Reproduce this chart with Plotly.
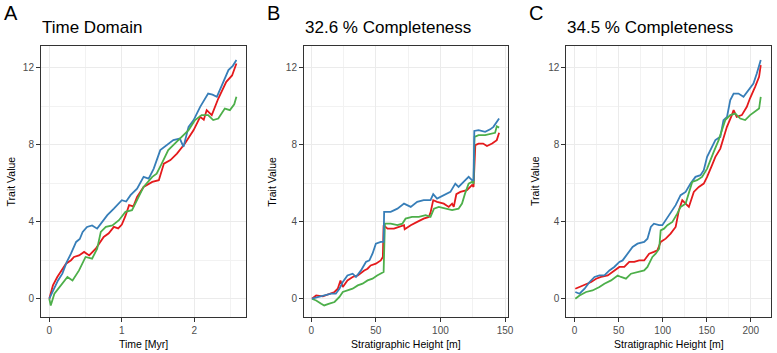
import plotly.graph_objects as go

# ---------------- Panel A: Time domain ----------------
a_blue_t = [0, 0.07, 0.12, 0.18, 0.24, 0.30, 0.37, 0.42, 0.46, 0.52, 0.59, 0.66, 0.73, 0.80, 0.89, 1.0, 1.06,
            1.12, 1.21, 1.30, 1.37, 1.44, 1.53, 1.62, 1.71, 1.80, 1.85, 1.92, 1.99, 2.08, 2.19, 2.25, 2.31, 2.37,
            2.47, 2.53, 2.58]
a_blue_v = [0, 0.6, 0.95, 1.3, 1.9, 2.35, 2.95, 3.1, 3.47, 3.73, 3.81, 3.64, 3.99, 4.34, 4.68, 5.12, 5.05,
            5.38, 5.72, 6.33, 6.24, 6.76, 7.72, 7.98, 8.24, 8.32, 7.89, 8.93, 9.28, 9.97, 10.66, 10.6, 10.49, 11.01,
            11.88, 12.1, 12.4]

a_red_t = [0, 0.05, 0.11, 0.17, 0.23, 0.30, 0.34, 0.41, 0.48, 0.55, 0.64, 0.75, 0.82, 0.89, 0.95, 1.0, 1.05,
           1.10, 1.16, 1.21, 1.30, 1.42, 1.51, 1.58, 1.67, 1.76, 1.87, 1.99, 2.08, 2.13, 2.17, 2.24, 2.33, 2.44,
           2.52, 2.58]
a_red_v = [0, 0.69, 1.13, 1.5, 1.82, 2.0, 2.17, 2.25, 2.43, 2.25, 2.6, 3.21, 3.4, 3.73, 3.65, 3.85, 4.3,
           4.86, 4.8, 5.29, 5.81, 6.07, 6.16, 7.02, 7.2, 7.54, 8.06, 8.76, 9.45, 9.3, 9.8, 9.54, 10.4, 11.27,
           11.6, 12.22]

a_green_t = [0, 0.02, 0.07, 0.16, 0.25, 0.32, 0.41, 0.50, 0.59, 0.66, 0.71, 0.78, 0.87, 0.96, 1.05, 1.14,
             1.21, 1.30, 1.42, 1.48, 1.55, 1.64, 1.73, 1.82, 1.92, 2.01, 2.10, 2.19, 2.26, 2.33, 2.42, 2.49,
             2.55, 2.58]
a_green_v = [0, -0.35, 0.26, 0.69, 1.13, 0.95, 1.47, 2.17, 2.08, 2.6, 3.47, 3.73, 3.81, 4.08, 4.51, 4.6,
             5.12, 5.81, 6.33, 6.5, 7.02, 7.72, 8.06, 8.41, 8.76, 9.28, 9.54, 9.54, 9.28, 9.36, 9.88, 9.80,
             10.1, 10.49]

# ---------------- Panel B: 32.6 % completeness ----------------
b_blue_h = [0.5, 5, 10, 15.4, 19, 21.8, 24.4, 28, 32, 34.6, 38.5, 42.3, 45, 47.4, 50, 53.8, 56, 56.4, 61.5,
            66.7, 71.8, 77, 82, 87, 92.3, 94.4, 97.4, 102.6, 107.7, 111.5, 114, 117.9, 121.8, 124.4, 125.6,
            126.2, 129.5, 134.6, 138.5, 141, 143.6, 145.4]
b_blue_v = [0, 0.09, 0.17, 0.26, 0.26, 0.52, 0.87, 1.21, 1.3, 1.13, 1.47, 1.91, 1.99, 2.34, 2.86, 2.95,
            2.95, 4.51, 4.51, 4.68, 4.94, 4.77, 5.03, 5.12, 5.12, 5.43, 5.2, 5.38, 5.55, 5.98, 5.81, 6.07,
            6.33, 6.16, 6.16, 8.72, 8.76, 8.67, 8.8, 8.93, 9.19, 9.36]

b_red_h = [0.5, 3.8, 9, 14, 18, 20.5, 22.6, 24.4, 28, 32, 36, 41, 43.6, 46, 50, 53.8, 55.4, 56, 59, 64, 68,
           71.8, 72.3, 77, 82, 87, 91, 92.3, 94.4, 97.4, 102.6, 106.4, 109, 110.3, 112.3, 115.4, 120.5,
           124.4, 125.6, 126.4, 127, 129.5, 133, 136, 140, 143.6, 145.4]
b_red_v = [0, 0.17, 0.12, 0.26, 0.35, 0.52, 0.95, 0.61, 0.95, 1.13, 1.21, 1.47, 1.56, 1.73, 1.82, 1.99,
           2.17, 3.82, 3.64, 3.64, 3.73, 3.82, 3.61, 3.82, 3.99, 4.16, 4.25, 4.47, 5.12, 5.03, 4.94, 4.77,
           4.94, 4.77, 5.43, 5.55, 5.64, 5.9, 5.81, 7.54, 7.98, 8.06, 8.06, 7.93, 8.06, 8.24, 8.62]

b_green_h = [0.5, 3.8, 7.7, 10, 14, 18, 21.8, 24.4, 28, 32, 36, 39.7, 43.6, 47.4, 51, 55, 56, 57, 61.5,
             66.7, 70.5, 73, 78, 83.3, 88.5, 92.3, 95, 98.7, 104, 109, 114, 116.7, 119, 121.8, 124.4, 125.6,
             126.4, 129.5, 134.6, 138.5, 142.3, 143.6, 145.4]
b_green_v = [0, -0.09, -0.26, -0.35, -0.26, -0.17, 0.09, 0.35, 0.43, 0.52, 0.69, 0.78, 0.95, 1.04, 1.21,
             1.39, 1.39, 3.9, 3.9, 3.82, 3.9, 4.16, 4.25, 4.25, 4.34, 4.25, 4.68, 4.77, 4.68, 4.6, 4.68, 4.94,
             5.46, 5.98, 6.07, 5.98, 8.41, 8.5, 8.5, 8.58, 8.62, 8.96, 8.89]

# ---------------- Panel C: 34.5 % completeness ----------------
c_blue_h = [0.8, 5.6, 11.3, 17, 22.6, 28.2, 33.8, 39.5, 45, 50.8, 54.5, 60, 65.8, 71.4, 79, 82.7, 86.5, 90,
            95.9, 99.6, 103.4, 109, 114.7, 120.3, 126, 131.6, 137.2, 142.9, 146.6, 150.4, 156, 159.8, 165.4,
            169, 173, 176.7, 180.5, 186, 191.7, 197.4, 203, 206.8, 211.3]
c_blue_v = [0.35, 0.26, 0.52, 0.87, 1.13, 1.21, 1.21, 1.47, 1.65, 1.91, 1.99, 2.34, 2.69, 2.86, 2.95, 3.12,
            3.73, 3.9, 3.82, 3.82, 4.08, 4.51, 4.86, 5.38, 5.55, 5.98, 6.33, 6.42, 6.68, 7.37, 7.89, 8.24,
            8.41, 9.28, 9.45, 10.32, 10.66, 10.66, 10.49, 10.84, 11.18, 11.7, 12.4]

c_red_h = [0.8, 5.6, 13, 18.8, 24.4, 30, 37.6, 45, 50.8, 56.4, 62, 67.7, 73.3, 79, 84.6, 90, 94, 97.7, 103.4,
           109, 114.7, 118.4, 122.2, 126, 129.7, 135.3, 141, 146.6, 150.4, 156, 159.8, 165.4, 169, 172.9,
           178.5, 180.5, 184, 189.8, 195.5, 199, 204.9, 209.4, 211.3]
c_red_v = [0.52, 0.61, 0.78, 0.87, 1.04, 1.13, 1.21, 1.47, 1.65, 1.65, 1.91, 1.91, 1.99, 1.99, 2.34, 2.43,
           2.51, 2.95, 3.12, 3.38, 3.73, 4.6, 5.12, 4.94, 4.77, 5.55, 5.81, 5.98, 6.33, 6.94, 7.37, 7.8,
           8.41, 8.93, 9.54, 9.8, 9.45, 9.54, 9.97, 10.4, 11.01, 11.53, 12.14]

c_green_h = [0.8, 5.6, 13, 20.3, 28.2, 33.8, 41.4, 48.9, 52.6, 58.3, 64, 71.4, 79, 82.7, 88.3, 92, 96, 97.7,
             101.5, 105.3, 111, 116.5, 120.3, 126, 129.7, 133.5, 139, 144.7, 150.4, 154, 157.9, 163.5,
             167.3, 171, 176.7, 182.4, 188, 193.6, 199.2, 204.9, 209.4, 211.3]
c_green_v = [0, 0.17, 0.35, 0.43, 0.61, 0.78, 0.95, 1.21, 1.13, 1.04, 1.3, 1.39, 1.47, 1.65, 2.17, 2.34, 2.6,
             3.55, 3.64, 3.82, 3.99, 4.42, 4.77, 4.94, 5.46, 6.07, 6.16, 6.33, 6.76, 7.2, 7.63, 8.24, 8.76,
             9.28, 9.54, 9.62, 9.36, 9.28, 9.54, 9.71, 9.88, 10.49]

y_ticks = [0, 4, 8, 12]
panel_letters = ["A", "B", "C"]
panel_titles = ["Time Domain", "32.6 % Completeness", "34.5 % Completeness"]
x_titles = ["Time [Myr]", "Stratigraphic Height [m]", "Stratigraphic Height [m]"]
y_title = "Trait Value"

RED, BLUE, GREEN = "#E41A1C", "#377EB8", "#4DAF4A"
W, H = 777, 353
FONT = "Liberation Sans, Arial, sans-serif"

fig = go.Figure()
panels = [
    ("x", "y", [(a_red_t, a_red_v, RED), (a_blue_t, a_blue_v, BLUE), (a_green_t, a_green_v, GREEN)]),
    ("x2", "y2", [(b_red_h, b_red_v, RED), (b_green_h, b_green_v, GREEN), (b_blue_h, b_blue_v, BLUE)]),
    ("x3", "y3", [(c_red_h, c_red_v, RED), (c_blue_h, c_blue_v, BLUE), (c_green_h, c_green_v, GREEN)]),
]
for xa, ya, series in panels:
    for xs, ys, col in series:
        fig.add_trace(go.Scatter(x=xs, y=ys, mode="lines", xaxis=xa, yaxis=ya,
                                 line=dict(color=col, width=1.8), showlegend=False,
                                 hoverinfo="skip"))

# pixel geometry of panels
px_dom = [(41.3, 247.3), (306.0, 511.7), (570.0, 775.7)]
y_top, y_bot = 46.0, 317.0
x_ranges = [[-0.114, 2.708], [-5.6, 152.6], [-9.4, 222.6]]
x_dticks = [1, 50, 50]
x_minor = [0.5, 25, 25]

axis_common = dict(showline=True, mirror=True, linecolor="#333333", linewidth=1.1,
                   ticks="outside", ticklen=4, tickcolor="#333333", tickwidth=1.2,
                   showgrid=True, gridcolor="#EBEBEB", gridwidth=1.1, zeroline=False,
                   tickfont=dict(family=FONT, size=10, color="#4D4D4D"))

layout = dict(width=W, height=H, margin=dict(l=0, r=0, t=0, b=0),
              paper_bgcolor="white", plot_bgcolor="white", showlegend=False)
annotations = []
for i in range(3):
    sfx = "" if i == 0 else str(i + 1)
    x0, x1 = px_dom[i]
    layout["xaxis" + sfx] = dict(domain=[x0 / W, x1 / W], anchor="y" + sfx, range=x_ranges[i],
                                 tick0=0, dtick=x_dticks[i],
                                 minor=dict(dtick=x_minor[i], tick0=0, showgrid=True,
                                            gridcolor="#F2F2F2", gridwidth=0.6, ticks=""),
                                 **axis_common)
    layout["yaxis" + sfx] = dict(domain=[1 - y_bot / H, 1 - y_top / H], anchor="x" + sfx,
                                 range=[-0.95, 13.13], tickvals=y_ticks,
                                 minor=dict(dtick=2, tick0=0, showgrid=True,
                                            gridcolor="#F2F2F2", gridwidth=0.6, ticks=""),
                                 **axis_common)
    # panel letter
    letter_x = [2, 267, 530][i]
    annotations.append(dict(text=panel_letters[i], xref="paper", yref="paper", x=letter_x / W,
                            y=1 - 13 / H, xanchor="left", yanchor="middle", showarrow=False,
                            font=dict(family=FONT, size=20, color="black")))
    # panel title
    annotations.append(dict(text=panel_titles[i], xref="paper", yref="paper", x=(x0 - 1) / W,
                            y=1 - 27 / H, xanchor="left", yanchor="middle", showarrow=False,
                            font=dict(family=FONT, size=17, color="black")))
    # x title
    annotations.append(dict(text=x_titles[i], xref="paper", yref="paper", x=(x0 + x1) / 2 / W,
                            y=1 - 344 / H, xanchor="center", yanchor="middle", showarrow=False,
                            font=dict(family=FONT, size=10.5, color="black")))
    # y title
    ytx = [11, 273, 538][i]
    annotations.append(dict(text=y_title, xref="paper", yref="paper", x=ytx / W,
                            y=1 - (y_top + y_bot) / 2 / H, xanchor="center", yanchor="middle",
                            textangle=-90, showarrow=False,
                            font=dict(family=FONT, size=10.5, color="black")))
layout["annotations"] = annotations
fig.update_layout(**layout)
fig.write_html("out.html", config={"displayModeBar": False},
               post_script="document.body.style.margin='0';document.body.style.overflow='hidden';")
